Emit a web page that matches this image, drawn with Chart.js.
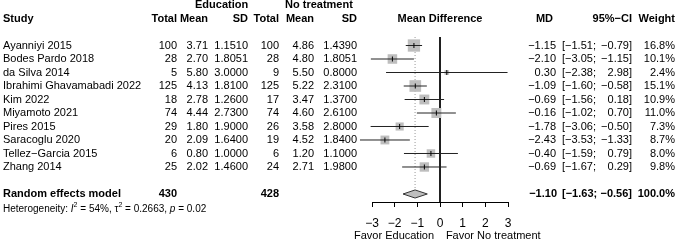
<!DOCTYPE html>
<html>
<head>
<meta charset="utf-8">
<script src="https://cdn.jsdelivr.net/npm/chart.js@4.4.1/dist/chart.umd.min.js"></script>
<style>
  html, body { margin: 0; padding: 0; background: #fff; }
  canvas { display: block; }
</style>
</head>
<body>
<canvas id="forest-chart" width="677" height="241"></canvas>
<script>
// Study level data
const studies = ['Ayanniyi 2015', 'Bodes Pardo 2018', 'da Silva 2014', 'Ibrahimi Ghavamabadi 2022', 'Kim 2022',
    'Miyamoto 2021', 'Pires 2015', 'Saracoglu 2020', 'Tellez\u2212Garcia 2015', 'Zhang 2014'];
const eduTotal = [100, 28, 5, 125, 18, 74, 29, 20, 6, 25];
const eduMean = [3.71, 2.70, 5.80, 4.13, 2.78, 4.44, 1.80, 2.09, 0.80, 2.02];
const eduSD = [1.1510, 1.8051, 3.0000, 1.8100, 1.2600, 2.7300, 1.9000, 1.6400, 1.0000, 1.4600];
const ctlTotal = [100, 28, 9, 125, 17, 74, 26, 19, 6, 24];
const ctlMean = [4.86, 4.80, 5.50, 5.22, 3.47, 4.60, 3.58, 4.52, 1.20, 2.71];
const ctlSD = [1.4390, 1.8051, 0.8000, 2.3100, 1.3700, 2.6100, 2.8000, 1.8400, 1.1000, 1.9800];
const md = [-1.15, -2.10, 0.30, -1.09, -0.69, -0.16, -1.78, -2.43, -0.40, -0.69];
const ciLow = [-1.51, -3.05, -2.38, -1.60, -1.56, -1.02, -3.06, -3.53, -1.59, -1.67];
const ciHigh = [-0.79, -1.15, 2.98, -0.58, 0.18, 0.70, -0.50, -1.33, 0.79, 0.29];
const weight = [16.8, 10.1, 2.4, 15.1, 10.9, 11.0, 7.3, 8.7, 8.0, 9.8];

// Pooled (random effects)
const pooled = { md: -1.10, low: -1.63, high: -0.56, eduTotal: 430, ctlTotal: 428 };
const xTicks = [-3, -2, -1, 0, 1, 2, 3];

const FONT = '"Liberation Sans", Arial, sans-serif';
const POOLED_ROW = studies.length + 1;
const Y_TOP = -0.63, Y_BOTTOM = 11.593;

function num(v, d) {
    return (v < 0 ? '\u2212' : '') + Math.abs(v).toFixed(d);
}

// CI lines, one dataset each
const ciSets = studies.map((s, i) => ({
    data: [{ x: ciLow[i], y: i }, { x: ciHigh[i], y: i }],
    showLine: true,
    borderColor: '#222',
    borderWidth: 1,
    pointRadius: 0,
    clip: false,
    order: 1
}));

const squares = {
    data: md.map((v, i) => ({ x: v, y: i })),
    showLine: false,
    pointStyle: 'rect',
    pointRadius: weight.map(w => 3.0 * Math.sqrt(w) / Math.SQRT2),
    backgroundColor: '#bebebe',
    borderColor: '#bebebe',
    borderWidth: 0,
    order: 2
};

const centerTicks = {
    data: md.map((v, i) => ({ x: v, y: i })),
    showLine: false,
    pointStyle: 'line',
    rotation: 90,
    pointRadius: 2.5,
    borderColor: '#000',
    borderWidth: 1,
    order: 0
};

const diamond = {
    data: [
        { x: pooled.low, y: POOLED_ROW },
        { x: pooled.md, y: POOLED_ROW - 0.3 },
        { x: pooled.high, y: POOLED_ROW },
        { x: pooled.md, y: POOLED_ROW + 0.3 },
        { x: pooled.low, y: POOLED_ROW }
    ],
    showLine: true,
    fill: 'shape',
    backgroundColor: '#bebebe',
    borderColor: '#333',
    borderWidth: 1,
    pointRadius: 0,
    tension: 0,
    order: 1
};

const zeroLine = {
    data: [{ x: 0, y: Y_TOP }, { x: 0, y: Y_BOTTOM }],
    showLine: true, borderColor: '#000', borderWidth: 1, pointRadius: 0, order: 3
};

const pooledLine = {
    data: [{ x: pooled.md, y: Y_TOP }, { x: pooled.md, y: POOLED_ROW - 0.3 }],
    showLine: true, borderColor: '#999', borderWidth: 1, borderDash: [1, 2], pointRadius: 0, order: 4
};

const tablePlugin = {
    id: 'forestTable',
    afterDraw(chart) {
        const ctx = chart.ctx;
        const ys = chart.scales.y, xs = chart.scales.x;
        const put = (txt, px, row, align, bold, size) => {
            ctx.font = (bold ? 'bold ' : '') + (size || 11) + 'px ' + FONT;
            ctx.textAlign = align;
            ctx.fillText(txt, px, ys.getPixelForValue(row));
        };
        ctx.save();
        ctx.fillStyle = '#000';
        ctx.textBaseline = 'middle';

        // headers
        put('Education', 195, -3, 'left', true);
        put('No treatment', 285, -3, 'left', true);
        put('Study', 3, -2, 'left', true);
        put('Total', 177, -2, 'right', true);
        put('Mean', 208, -2, 'right', true);
        put('SD', 248, -2, 'right', true);
        put('Total', 279, -2, 'right', true);
        put('Mean', 314, -2, 'right', true);
        put('SD', 357, -2, 'right', true);
        put('Mean Difference', xs.getPixelForValue(0), -2, 'center', true);
        put('MD', 553, -2, 'right', true);
        put('95%\u2212CI', 632, -2, 'right', true);
        put('Weight', 675, -2, 'right', true);

        studies.forEach((s, i) => {
            put(s, 3, i, 'left');
            put(String(eduTotal[i]), 177, i, 'right');
            put(eduMean[i].toFixed(2), 208, i, 'right');
            put(eduSD[i].toFixed(4), 248, i, 'right');
            put(String(ctlTotal[i]), 279, i, 'right');
            put(ctlMean[i].toFixed(2), 314, i, 'right');
            put(ctlSD[i].toFixed(4), 357, i, 'right');
            put(num(md[i], 2), 556, i, 'right');
            put('[' + num(ciLow[i], 2) + ';', 562, i, 'left');
            put(num(ciHigh[i], 2) + ']', 632, i, 'right');
            put(weight[i].toFixed(1) + '%', 675, i, 'right');
        });

        // pooled row
        const pr = POOLED_ROW;
        put('Random effects model', 3, pr, 'left', true);
        put(String(pooled.eduTotal), 177, pr, 'right', true);
        put(String(pooled.ctlTotal), 279, pr, 'right', true);
        put(num(pooled.md, 2), 557, pr, 'right', true);
        put('[' + num(pooled.low, 2) + ';', 562, pr, 'left', true);
        put(num(pooled.high, 2) + ']', 632, pr, 'right', true);
        put('100.0%', 675, pr, 'right', true);

        // heterogeneity line with italics and superscripts
        const hy = ys.getPixelForValue(pr + 1.1);
        let hx = 3;
        ctx.textAlign = 'left';
        const seg = (txt, style, dy) => {
            ctx.font = style + FONT;
            ctx.fillText(txt, hx, hy + (dy || 0));
            hx += ctx.measureText(txt).width;
        };
        seg('Heterogeneity: ', '10px ');
        seg('I', 'italic 10px ');
        seg('2', '7px ', -4);
        seg(' = 54%, \u03c4', '10px ');
        seg('2', '7px ', -4);
        seg(' = 0.2663, ', '10px ');
        seg('p', 'italic 10px ');
        seg(' = 0.02', '10px ');

        // favour labels under the axis
        const fy = chart.chartArea.bottom + 34;
        ctx.font = '11px ' + FONT;
        ctx.textAlign = 'right';
        ctx.fillText('Favor Education', xs.getPixelForValue(-0.26), fy);
        ctx.textAlign = 'left';
        ctx.fillText('Favor No treatment', xs.getPixelForValue(0.26), fy);
        ctx.restore();
    }
};

const ctx = document.getElementById('forest-chart').getContext('2d');
const forestChart = new Chart(ctx, {
    type: 'scatter',
    data: { datasets: [centerTicks, ...ciSets, diamond, squares, zeroLine, pooledLine] },
    options: {
        responsive: false,
        animation: false,
        devicePixelRatio: 1,
        layout: { padding: { left: 372, right: 169, top: 37, bottom: 11 } },
        plugins: { legend: { display: false }, tooltip: { enabled: false } },
        scales: {
            x: {
                type: 'linear',
                min: -3, max: 3,
                afterBuildTicks: axis => { axis.ticks = xTicks.map(v => ({ value: v })); },
                afterFit: axis => { axis.height = 28; },
                ticks: {
                    color: '#000',
                    padding: 9,
                    font: { family: FONT, size: 12 },
                    callback: v => num(v, 0)
                },
                grid: { drawOnChartArea: false, drawTicks: true, tickLength: 5, color: '#000' },
                border: { display: true, color: '#000', width: 1 }
            },
            y: {
                type: 'linear',
                reverse: true,
                min: Y_TOP, max: Y_BOTTOM,
                display: false
            }
        }
    },
    plugins: [tablePlugin]
});
</script>
</body>
</html>
